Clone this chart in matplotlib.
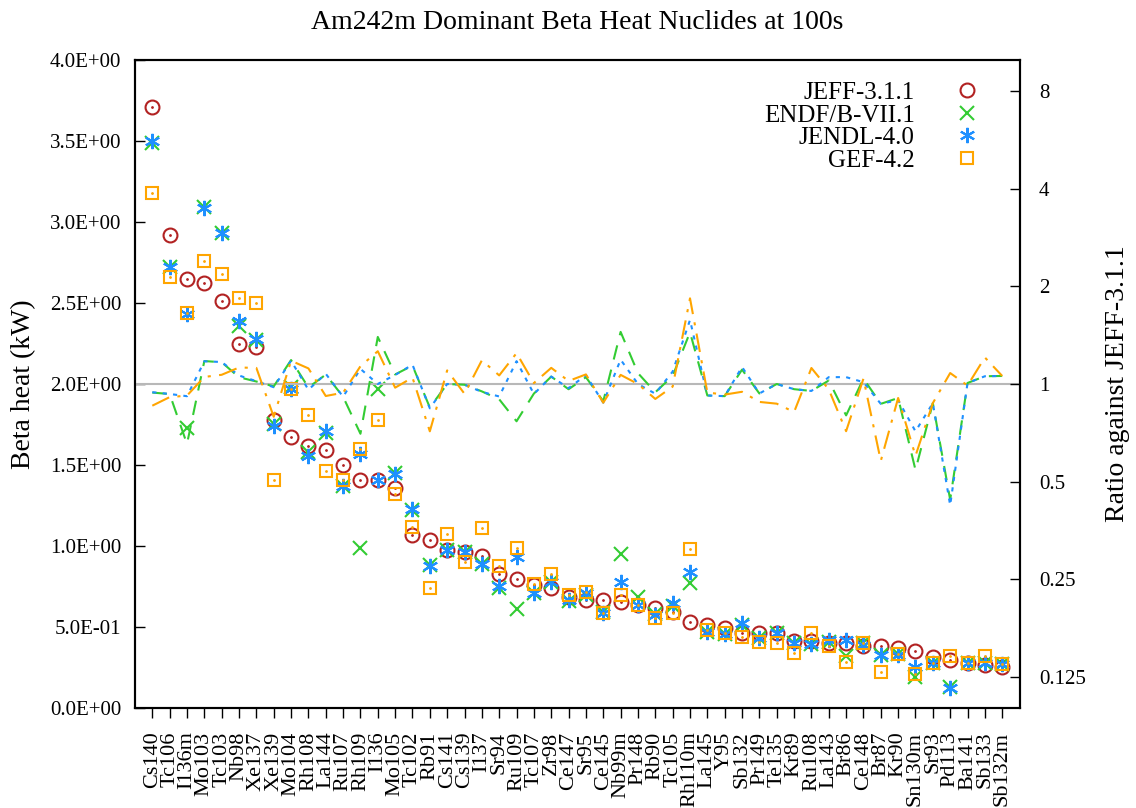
import numpy as np
import matplotlib.pyplot as plt
from matplotlib.ticker import FixedLocator, NullLocator

plt.rcParams['font.family'] = ['Liberation Serif', 'DejaVu Serif']

nuclides = ["Cs140", "Tc106", "I136m", "Mo103", "Tc103", "Nb98", "Xe137", "Xe139",
            "Mo104", "Rh108", "La144", "Ru107", "Rh109", "I136", "Mo105", "Tc102",
            "Rb91", "Cs141", "Cs139", "I137", "Sr94", "Ru109", "Tc107", "Zr98",
            "Ce147", "Sr95", "Ce145", "Nb99m", "Pr148", "Rb90", "Tc105", "Rh110m",
            "La145", "Y95", "Sb132", "Pr149", "Te135", "Kr89", "Ru108", "La143",
            "Br86", "Ce148", "Br87", "Kr90", "Sn130m", "Sr93", "Pd113", "Ba141",
            "Sb133", "Sb132m"]

# beta heat in kW per library
jeff = [3.71, 2.92, 2.65, 2.625, 2.51, 2.25, 2.23, 1.78, 1.67, 1.62,
        1.59, 1.50, 1.41, 1.41, 1.355, 1.07, 1.04, 0.975, 0.965, 0.938,
        0.825, 0.795, 0.76, 0.74, 0.685, 0.667, 0.667, 0.656, 0.636, 0.615,
        0.595, 0.533, 0.51, 0.496, 0.465, 0.46, 0.46, 0.415, 0.415, 0.40,
        0.40, 0.385, 0.38, 0.37, 0.35, 0.315, 0.296, 0.278, 0.265, 0.255]
endf = [3.49, 2.72, 1.73, 3.09, 2.93, 2.36, 2.27, 1.75, 1.98, 1.58,
        1.70, 1.37, 0.99, 1.97, 1.45, 1.22, 0.88, 0.975, 0.96, 0.89,
        0.74, 0.61, 0.71, 0.78, 0.66, 0.70, 0.59, 0.95, 0.687, 0.58,
        0.63, 0.77, 0.47, 0.455, 0.515, 0.43, 0.46, 0.40, 0.395, 0.41,
        0.32, 0.40, 0.33, 0.335, 0.19, 0.275, 0.13, 0.28, 0.28, 0.27]
jendl = [3.50, 2.72, 2.43, 3.085, 2.935, 2.39, 2.275, 1.74, 1.97, 1.555,
         1.71, 1.37, 1.57, 1.41, 1.445, 1.227, 0.875, 0.975, 0.96, 0.887,
         0.755, 0.935, 0.708, 0.78, 0.665, 0.71, 0.584, 0.78, 0.636, 0.574,
         0.65, 0.84, 0.47, 0.455, 0.525, 0.43, 0.46, 0.40, 0.395, 0.42,
         0.42, 0.39, 0.33, 0.33, 0.25, 0.275, 0.125, 0.28, 0.28, 0.27]
gef = [3.18, 2.66, 2.44, 2.76, 2.68, 2.53, 2.50, 1.41, 1.97, 1.81,
       1.46, 1.41, 1.60, 1.78, 1.32, 1.12, 0.743, 1.074, 0.90, 1.11,
       0.877, 0.99, 0.765, 0.83, 0.70, 0.714, 0.584, 0.70, 0.636, 0.553,
       0.584, 0.98, 0.48, 0.46, 0.44, 0.405, 0.40, 0.34, 0.465, 0.385,
       0.286, 0.40, 0.22, 0.335, 0.21, 0.275, 0.32, 0.275, 0.32, 0.27]

ratio_ticks = [0.125, 0.25, 0.5, 1, 2, 4, 8]
ratio_labels = ["0.125", "0.25", "0.5", "1", "2", "4", "8"]

c_jeff = "#b22222"
c_endf = "#33cc33"
c_jendl = "#1e90ff"
c_gef = "#ffa500"

x = np.arange(len(nuclides))
jeff_a = np.array(jeff)

fig = plt.figure(figsize=(11.36, 8.08), dpi=100)
ax = fig.add_axes([0.1188, 0.1238, 0.7787, 0.8019])
ax2 = ax.twinx()

# ratio lines on the right axis
ax2.axhline(1, color="#b8b8b8", lw=1.5, zorder=1)
ax2.plot(x, np.array(endf) / jeff_a, color=c_endf, lw=1.5, dashes=(7, 5))
ax2.plot(x, np.array(jendl) / jeff_a, color=c_jendl, lw=1.5, dashes=(2, 3))
ax2.plot(x, np.array(gef) / jeff_a, color=c_gef, lw=1.5, dashes=(9, 4, 1.5, 4))
ax2.set_yscale("log")
ax2.set_ylim(0.1, 10)
ax2.yaxis.set_major_locator(FixedLocator(ratio_ticks))
ax2.yaxis.set_minor_locator(NullLocator())
ax2.set_yticklabels(ratio_labels)
ax2.tick_params(axis="y", direction="in", length=7, width=1, labelsize=15, pad=14)
ax2.set_ylabel("Ratio against JEFF-3.1.1", fontsize=20, labelpad=14)

# absolute beta heat markers
ms = 10
ax.plot(x, jeff, ls="none", marker="o", ms=ms, mfc="none", mec=c_jeff, mew=1.5,
        label="JEFF-3.1.1")
ax.plot(x, jeff, ls="none", marker=".", ms=2, color=c_jeff)
ax.plot(x, endf, ls="none", marker="x", ms=ms, mec=c_endf, mew=1.5,
        label="ENDF/B-VII.1")
ax.plot(x, jendl, ls="none", marker=(6, 2, 0), ms=ms + 1, mec=c_jendl, mew=1.5,
        label="JENDL-4.0")
ax.plot(x, gef, ls="none", marker="s", ms=ms - 1, mfc="none", mec=c_gef, mew=1.5,
        label="GEF-4.2")
ax.plot(x, gef, ls="none", marker=".", ms=2, color=c_gef)

ax.set_xlim(-1, len(nuclides))
ax.set_ylim(0, 4)
ax.set_yticks(np.arange(0, 4.01, 0.5))
ax.set_yticklabels([f"{v:.1E}" for v in np.arange(0, 4.01, 0.5)])
ax.set_xticks(x)
ax.set_xticklabels(nuclides, rotation=90, fontsize=16)
ax.tick_params(axis="y", direction="in", length=7, width=1, labelsize=15, pad=10)
ax.tick_params(axis="x", direction="out", length=7, width=1, pad=10)
ax.set_ylabel("Beta heat (kW)", fontsize=20, labelpad=10)
ax.set_title("Am242m Dominant Beta Heat Nuclides at 100s", fontsize=20, pad=22)

for a in (ax, ax2):
    for s in a.spines.values():
        s.set_linewidth(1.5)

leg = ax.legend(loc="upper right", bbox_to_anchor=(0.972, 0.99), frameon=False,
                markerfirst=False, fontsize=18, labelspacing=0.0,
                handletextpad=1.6, handlelength=1.0, borderaxespad=0.2)
for t in leg.get_texts():
    t.set_ha("right")

fig.savefig("out.png", dpi=100)
